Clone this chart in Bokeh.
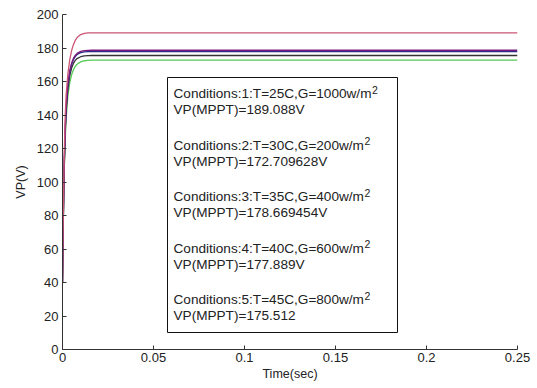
from bokeh.plotting import figure
from bokeh.models import Range1d, Label, BoxAnnotation, FixedTicker
from bokeh.embed import file_html
from bokeh.resources import INLINE

# time samples (sec)
time = [0, 0.0003, 0.0007, 0.001, 0.0015, 0.002, 0.003, 0.004, 0.005, 0.006, 0.007, 0.008, 0.010, 0.012, 0.014, 0.016, 0.25]
# VP(V) per condition
vp1 = [40, 70, 100, 118, 140, 152, 165, 173, 178.5, 182, 184.5, 186.2, 188, 188.7, 189.0, 189.088, 189.088]
vp2 = [40, 66, 92, 108, 126, 138, 152, 159.5, 164, 167, 169, 170.3, 171.7, 172.4, 172.65, 172.709628, 172.709628]
vp3 = [40, 68, 96, 113, 132, 145, 159, 166.5, 171, 173.8, 175.6, 176.8, 178, 178.45, 178.62, 178.669454, 178.669454]
vp4 = [40, 67, 95, 112, 131, 144, 158, 165.7, 170.3, 173.1, 174.9, 176.1, 177.2, 177.65, 177.84, 177.889, 177.889]
vp5 = [40, 67, 94, 110, 129, 142, 156, 163.5, 168, 170.8, 172.6, 173.7, 174.8, 175.3, 175.47, 175.512, 175.512]

colors = ["#cc5577", "#55cc55", "#7a1a7a", "#2a2a8a", "#333333"]

x_ticks = [0, 0.05, 0.1, 0.15, 0.2, 0.25]
y_ticks = [0, 20, 40, 60, 80, 100, 120, 140, 160, 180, 200]

legend_lines = [
    ("Conditions:1:T=25C,G=1000w/m", "VP(MPPT)=189.088V"),
    ("Conditions:2:T=30C,G=200w/m", "VP(MPPT)=172.709628V"),
    ("Conditions:3:T=35C,G=400w/m", "VP(MPPT)=178.669454V"),
    ("Conditions:4:T=40C,G=600w/m", "VP(MPPT)=177.889V"),
    ("Conditions:5:T=45C,G=800w/m", "VP(MPPT)=175.512"),
]

FONT = "Liberation Sans"
LEG_FS = 13.6

# Arial advance widths (per 1000 em) for superscript placement
W = {"C": 722, "o": 556, "n": 556, "d": 556, "i": 222, "t": 278, "s": 500, ":": 278,
     "T": 611, "=": 584, ",": 278, "G": 778, "w": 722, "/": 278, "m": 833}
def text_w(s, fs):
    return sum(W.get(ch, 556) for ch in s) / 1000 * fs

p = figure(width=537, height=388, output_backend="svg", toolbar_location=None,
           x_range=Range1d(0, 0.25), y_range=Range1d(0, 200),
           min_border_left=62, min_border_right=20, min_border_top=14, min_border_bottom=39)
p.outline_line_color = None
p.xgrid.visible = False
p.ygrid.visible = False
p.background_fill_color = "white"
p.border_fill_color = "white"

for vals, c in [(vp2, colors[1]), (vp5, colors[4]), (vp4, colors[3]), (vp3, colors[2]), (vp1, colors[0])]:
    p.line(time, vals, line_color=c, line_width=1.3)

for ax, ticks in ((p.xaxis[0], x_ticks), (p.yaxis[0], y_ticks)):
    ax.ticker = FixedTicker(ticks=ticks)
    ax.major_tick_in = 4
    ax.major_tick_out = 0
    ax.minor_tick_in = 0
    ax.minor_tick_out = 0
    ax.axis_line_color = "#333333"
    ax.major_tick_line_color = "#333333"
    ax.major_label_text_font = FONT
    ax.major_label_text_font_size = "13px"
    ax.major_label_text_color = "#222222"
    ax.axis_label_text_font = FONT
    ax.axis_label_text_font_size = "12.5px"
    ax.axis_label_text_font_style = "normal"
    ax.axis_label_text_color = "#222222"
p.xaxis.axis_label = "Time(sec)"
p.yaxis.axis_label = "VP(V)"
p.xaxis.major_label_overrides = {0: "0", 0.05: "0.05", 0.1: "0.1", 0.15: "0.15", 0.2: "0.2", 0.25: "0.25"}
p.xaxis.axis_label_standoff = 2
p.yaxis.axis_label_standoff = 6
p.yaxis.major_label_standoff = 4
p.xaxis.major_label_standoff = 3

def dx(px):
    return (px - 62) / 455 * 0.25

def dy(py):
    return (349 - py) / 335 * 200

p.add_layout(BoxAnnotation(left=dx(167), right=dx(397), top=dy(77), bottom=dy(332),
                           fill_color="white", fill_alpha=1.0, line_color="#111111",
                           line_alpha=1.0, line_width=1))

X0 = 173
for i, (l1, l2) in enumerate(legend_lines):
    yc = 93 + 51.5 * i
    p.add_layout(Label(x=dx(X0), y=dy(yc), text=l1, text_font=FONT, text_font_size=f"{LEG_FS}px",
                       text_baseline="middle", text_color="#222222"))
    p.add_layout(Label(x=dx(X0), y=dy(yc + 16), text=l2, text_font=FONT, text_font_size=f"{LEG_FS}px",
                       text_baseline="middle", text_color="#222222"))
    p.add_layout(Label(x=dx(X0 + text_w(l1, LEG_FS) + 0.5), y=dy(yc - 4), text="2", text_font=FONT,
                       text_font_size="10.5px", text_baseline="middle", text_color="#222222"))

open("out.html", "w").write(file_html(p, INLINE))
